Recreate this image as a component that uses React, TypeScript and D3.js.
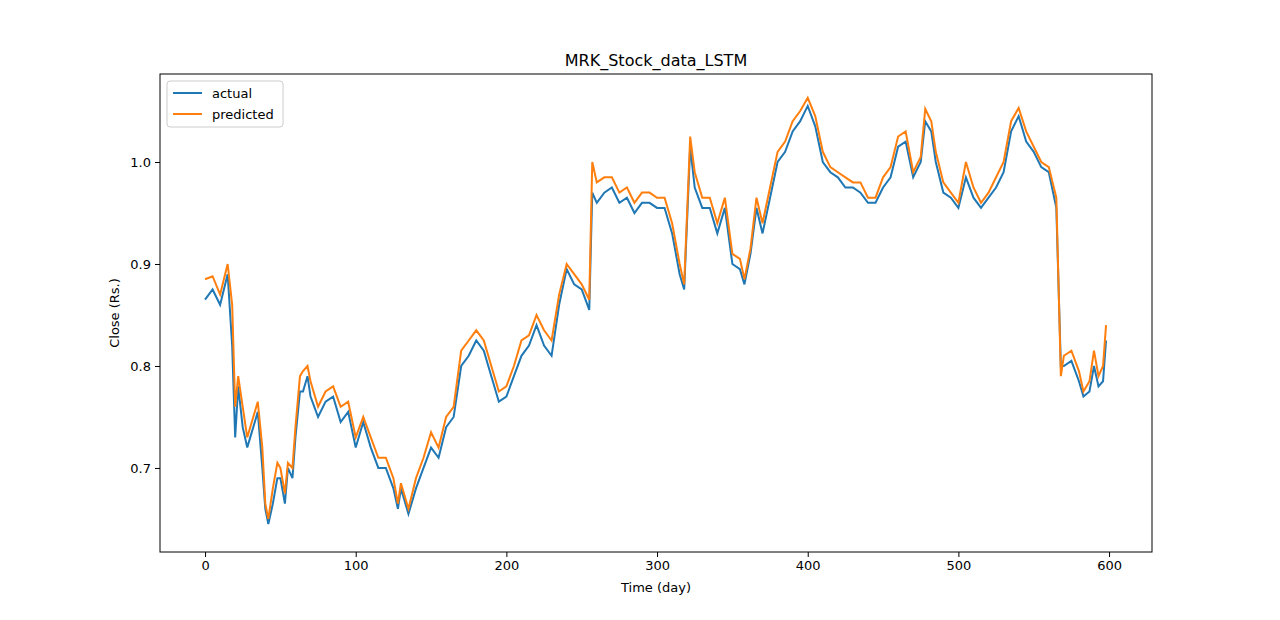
import { useEffect, useRef } from "react";
import * as d3 from "d3";

const days = [0,5,10,15,18,20,22,25,28,30,35,38,40,42,45,48,50,53,55,58,60,63,65,68,70,75,80,85,90,95,100,105,110,115,120,125,128,130,135,140,145,150,155,160,165,170,175,180,185,190,195,200,205,210,215,220,225,230,235,240,245,250,255,257,260,265,270,275,280,285,290,295,300,305,310,315,318,322,325,330,335,340,345,350,355,358,362,366,370,375,380,385,390,395,400,405,410,415,420,425,430,435,440,445,450,455,460,465,470,475,478,482,485,490,495,500,505,510,515,520,525,530,535,540,545,550,555,560,565,568,570,575,580,583,587,590,593,596,598];

const actual = [0.865,0.875,0.86,0.89,0.82,0.73,0.78,0.74,0.72,0.73,0.755,0.70,0.66,0.645,0.665,0.69,0.69,0.665,0.70,0.69,0.73,0.775,0.775,0.79,0.77,0.75,0.765,0.77,0.745,0.755,0.72,0.745,0.72,0.70,0.70,0.68,0.66,0.68,0.655,0.68,0.70,0.72,0.71,0.74,0.75,0.80,0.81,0.825,0.815,0.79,0.765,0.77,0.79,0.81,0.82,0.84,0.82,0.81,0.86,0.895,0.88,0.875,0.855,0.97,0.96,0.97,0.975,0.96,0.965,0.95,0.96,0.96,0.955,0.955,0.93,0.89,0.875,1.015,0.975,0.955,0.955,0.93,0.955,0.90,0.895,0.88,0.91,0.955,0.93,0.965,1.0,1.01,1.03,1.04,1.055,1.035,1.0,0.99,0.985,0.975,0.975,0.97,0.96,0.96,0.975,0.985,1.015,1.02,0.985,1.0,1.04,1.03,1.0,0.97,0.965,0.955,0.985,0.965,0.955,0.965,0.975,0.99,1.03,1.045,1.02,1.01,0.995,0.99,0.955,0.80,0.80,0.805,0.785,0.77,0.775,0.80,0.78,0.785,0.825];

const predicted = [0.885,0.888,0.87,0.9,0.86,0.76,0.79,0.76,0.73,0.74,0.765,0.72,0.665,0.65,0.68,0.705,0.70,0.675,0.705,0.70,0.74,0.79,0.795,0.80,0.785,0.76,0.775,0.78,0.76,0.765,0.73,0.75,0.73,0.71,0.71,0.69,0.665,0.685,0.66,0.69,0.71,0.735,0.72,0.75,0.76,0.815,0.825,0.835,0.825,0.80,0.775,0.78,0.80,0.825,0.83,0.85,0.835,0.825,0.87,0.90,0.89,0.88,0.865,1.0,0.98,0.985,0.985,0.97,0.975,0.96,0.97,0.97,0.965,0.965,0.94,0.90,0.88,1.025,0.99,0.965,0.965,0.94,0.965,0.91,0.905,0.885,0.915,0.965,0.94,0.975,1.01,1.02,1.04,1.05,1.063,1.045,1.01,0.995,0.99,0.985,0.98,0.98,0.965,0.965,0.985,0.995,1.025,1.03,0.99,1.005,1.052,1.04,1.01,0.98,0.97,0.96,1.0,0.975,0.96,0.97,0.985,1.0,1.04,1.053,1.03,1.015,1.0,0.995,0.965,0.79,0.81,0.815,0.795,0.775,0.785,0.815,0.79,0.80,0.84];

const xTicks = [0, 100, 200, 300, 400, 500, 600];
const yTicks = [0.7, 0.8, 0.9, 1.0];

export default function App() {
  const ref = useRef<SVGSVGElement | null>(null);

  useEffect(() => {
    if (!ref.current) return;
    const svg = d3.select(ref.current);
    svg.selectAll("*").remove();
    const font = "DejaVu Sans";

    const x = d3.scaleLinear().domain([-29.9, 628.5]).range([160, 1152]);
    const y = d3.scaleLinear().domain([0.6176, 1.0863]).range([552, 74]);

    const line = d3
      .line<number>()
      .x((_, i) => x(days[i]))
      .y((d) => y(d));

    svg.append("path").datum(actual).attr("d", line).attr("fill", "none").attr("stroke", "#1f77b4").attr("stroke-width", 2);
    svg.append("path").datum(predicted).attr("d", line).attr("fill", "none").attr("stroke", "#ff7f0e").attr("stroke-width", 2);

    svg.append("rect").attr("x", 160).attr("y", 74).attr("width", 992).attr("height", 478)
      .attr("fill", "none").attr("stroke", "black").attr("stroke-width", 1);

    const xa = svg.append("g").attr("transform", "translate(0,552)")
      .call(d3.axisBottom(x).tickValues(xTicks).tickSize(5).tickPadding(4).tickFormat(d3.format("d")));
    xa.select(".domain").remove();
    xa.selectAll("text").attr("font-family", font).attr("font-size", 13).attr("fill", "black");

    const ya = svg.append("g").attr("transform", "translate(160,0)")
      .call(d3.axisLeft(y).tickValues(yTicks).tickSize(5).tickPadding(4).tickFormat(d3.format(".1f")));
    ya.select(".domain").remove();
    ya.selectAll("text").attr("font-family", font).attr("font-size", 13).attr("fill", "black");

    svg.append("text").attr("x", 656).attr("y", 66).attr("text-anchor", "middle")
      .attr("font-family", font).attr("font-size", 16).text("MRK_Stock_data_LSTM");
    svg.append("text").attr("x", 656).attr("y", 592).attr("text-anchor", "middle")
      .attr("font-family", font).attr("font-size", 13).text("Time (day)");
    svg.append("text").attr("transform", "translate(119,313) rotate(-90)").attr("text-anchor", "middle")
      .attr("font-family", font).attr("font-size", 13).text("Close (Rs.)");

    const lg = svg.append("g");
    lg.append("rect").attr("x", 167).attr("y", 81).attr("width", 116).attr("height", 46).attr("rx", 3)
      .attr("fill", "white").attr("fill-opacity", 0.8).attr("stroke", "#cccccc");
    [["actual", "#1f77b4"], ["predicted", "#ff7f0e"]].forEach(([t, c], i) => {
      const yy = 93 + i * 21;
      lg.append("line").attr("x1", 173).attr("x2", 202).attr("y1", yy).attr("y2", yy).attr("stroke", c).attr("stroke-width", 2);
      lg.append("text").attr("x", 212).attr("y", yy + 5).attr("font-family", font).attr("font-size", 13).text(t);
    });
  }, []);

  return <svg ref={ref} width={1280} height={620} style={{ position: "absolute", left: 0, top: 0 }} />;
}
